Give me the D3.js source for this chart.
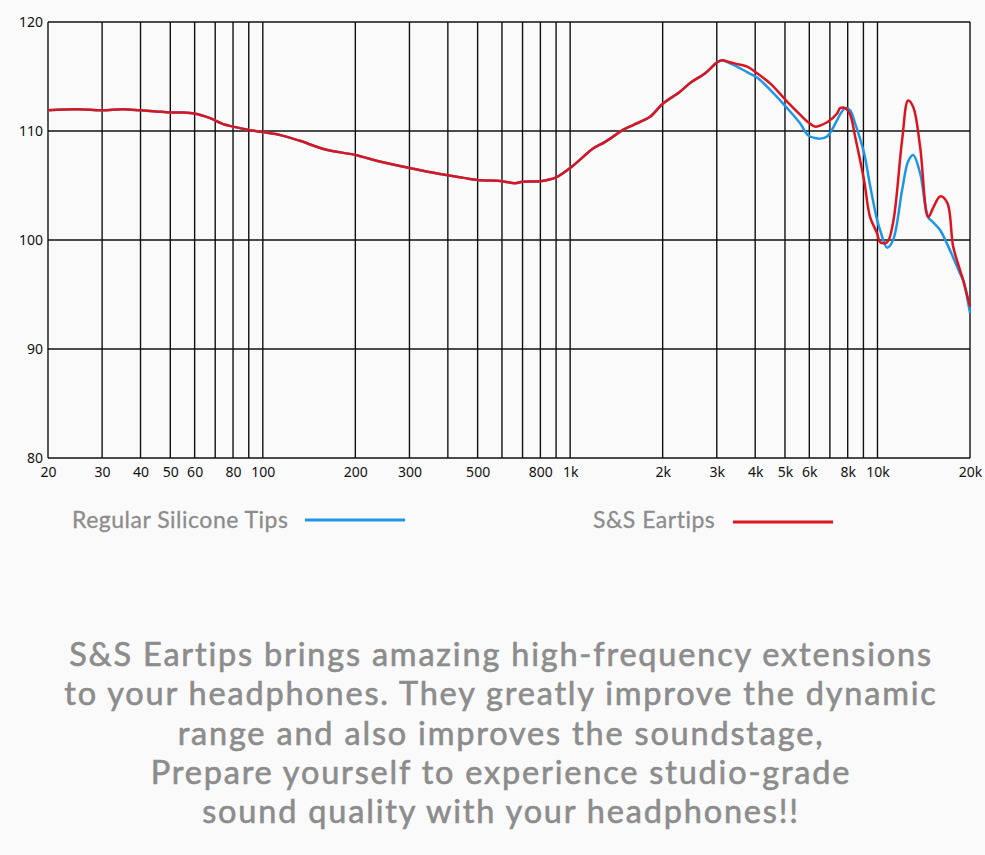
<!DOCTYPE html>
<html>
<head>
<meta charset="utf-8">
<script src="https://cdn.jsdelivr.net/npm/d3@7"></script>
<style>
  body { margin: 0; background: #fafafa; }
  svg { display: block; font-family: "Noto Sans", sans-serif; }
</style>
</head>
<body>
<div id="chart"></div>
<script>
const width = 985;
const height = 855;

// fréquences (Hz) et niveaux (dB)
const freqs = [20, 25, 30, 35, 40, 45, 50, 55, 60, 67, 75, 80, 90, 100, 115, 132, 160, 200, 240, 300,
  377, 450, 500, 600, 662, 700, 800, 900, 1000, 1100, 1187, 1300, 1486, 1603, 1820, 2000, 2278, 2456,
  2750, 3006, 3120, 3314, 3550, 3766, 4058, 4500, 5080, 5600, 5946, 6266, 6506, 6856, 7390, 7554, 7848,
  8148, 8456, 9040, 9460, 9977, 10200, 10750, 11240, 12030, 12580, 13070, 13770, 14620, 15200, 16000,
  16870, 17630, 18580, 19010, 20000];

const ssEartips = [111.9, 112.0, 111.9, 112.0, 111.9, 111.8, 111.7, 111.7, 111.6, 111.2, 110.6, 110.4,
  110.1, 109.9, 109.6, 109.1, 108.3, 107.8, 107.2, 106.6, 106.05, 105.7, 105.5, 105.4, 105.2, 105.35,
  105.4, 105.75, 106.6, 107.6, 108.4, 109.0, 110.1, 110.55, 111.3, 112.5, 113.6, 114.4, 115.3, 116.3,
  116.5, 116.3, 116.1, 115.9, 115.3, 114.3, 112.7, 111.5, 110.8, 110.4, 110.5, 110.8, 111.6, 112.1,
  112.1, 111.5, 109.5, 105.5, 102.1, 100.6, 99.8, 99.8, 101.6, 109.2, 112.8, 112.2, 108.5, 102.1,
  103.0, 104.0, 103.4, 99.4, 97.2, 96.3, 93.9];

const regularTips = [111.9, 112.0, 111.9, 112.0, 111.9, 111.8, 111.7, 111.7, 111.6, 111.2, 110.6, 110.4,
  110.1, 109.9, 109.6, 109.1, 108.3, 107.8, 107.2, 106.6, 106.05, 105.7, 105.5, 105.4, 105.2, 105.35,
  105.4, 105.75, 106.6, 107.6, 108.4, 109.0, 110.1, 110.55, 111.3, 112.5, 113.6, 114.4, 115.3, 116.3,
  116.5, 116.2, 115.8, 115.4, 114.9, 113.7, 112.1, 110.7, 109.6, 109.35, 109.3, 109.5, 111.0, 111.5,
  112.1, 111.9, 110.7, 108.0, 105.0, 101.8, 100.9, 99.3, 100.0, 104.6, 107.2, 107.8, 106.1, 102.1,
  101.6, 100.9, 99.6, 98.4, 96.9, 96.3, 93.3];

const gridFreqs = [20, 30, 40, 50, 60, 70, 80, 90, 100, 200, 300, 400, 500, 600, 700, 800, 900,
  1000, 2000, 3000, 4000, 5000, 6000, 7000, 8000, 9000, 10000, 20000];
const freqTicks = [20, 30, 40, 50, 60, 80, 100, 200, 300, 500, 800, 1000, 2000, 3000, 4000, 5000,
  6000, 8000, 10000, 20000];
const dbTicks = [80, 90, 100, 110, 120];

const legendLabels = ["Regular Silicone Tips", "S&S Eartips"];
const blurb = [
  "S&S Eartips brings amazing high-frequency extensions",
  "to your headphones. They greatly improve the dynamic",
  "range and also improves the soundstage,",
  "Prepare yourself to experience studio-grade",
  "sound quality with your headphones!!"
];

const blue = "#1e96e8";
const red = "#dc141e";
const gray = "#8c8c8c";

const x = d3.scaleLog().domain([20, 20000]).range([48, 970]);
const y = d3.scaleLinear().domain([80, 120]).range([458, 22]);

const svg = d3.select("#chart").append("svg")
  .attr("width", width)
  .attr("height", height);

svg.append("rect").attr("width", width).attr("height", height).attr("fill", "#fafafa");

// grille
svg.append("g").selectAll("line")
  .data(gridFreqs)
  .enter().append("line")
  .attr("x1", d => x(d)).attr("x2", d => x(d))
  .attr("y1", y(120)).attr("y2", y(80))
  .attr("stroke", "#111").attr("stroke-width", 1.4);

svg.append("g").selectAll("line")
  .data(dbTicks)
  .enter().append("line")
  .attr("x1", x(20)).attr("x2", x(20000))
  .attr("y1", d => y(d)).attr("y2", d => y(d))
  .attr("stroke", "#111").attr("stroke-width", 1.4);

// axes
const fmt = d => d >= 1000 ? (d / 1000) + "k" : String(d);
const xAxis = svg.append("g")
  .attr("transform", `translate(0,${y(80)})`)
  .call(d3.axisBottom(x).tickValues(freqTicks).tickFormat(fmt).tickSize(0).tickPadding(9));
xAxis.select(".domain").remove();
xAxis.selectAll("text").attr("font-size", 14).attr("fill", "#111").attr("font-family", "Noto Sans, sans-serif");

const yAxis = svg.append("g")
  .attr("transform", `translate(${x(20)},0)`)
  .call(d3.axisLeft(y).tickValues(dbTicks).tickSize(0).tickPadding(5));
yAxis.select(".domain").remove();
yAxis.selectAll("text").attr("font-size", 14).attr("fill", "#111").attr("font-family", "Noto Sans, sans-serif");

// courbes
const line = d3.line()
  .x(d => x(d[0]))
  .y(d => y(d[1]))
  .curve(d3.curveCatmullRom.alpha(0.5));

svg.append("path")
  .datum(freqs.map((f, i) => [f, regularTips[i]]))
  .attr("d", line)
  .attr("fill", "none").attr("stroke", blue).attr("stroke-width", 2.5);

svg.append("path")
  .datum(freqs.map((f, i) => [f, ssEartips[i]]))
  .attr("d", line)
  .attr("fill", "none").attr("stroke", red).attr("stroke-width", 2.5);

// légende
const legend = [
  { label: legendLabels[0], color: blue, tx: 72, lx: 305, ly: 520 },
  { label: legendLabels[1], color: red, tx: 593, lx: 733, ly: 522 }
];
legend.forEach(l => {
  svg.append("text")
    .attr("x", l.tx).attr("y", 528)
    .attr("font-family", "Lato, sans-serif")
    .attr("font-size", 23).attr("letter-spacing", 0.5).attr("fill", gray)
    .attr("stroke", gray).attr("stroke-width", 0.3)
    .text(l.label);
  svg.append("line")
    .attr("x1", l.lx).attr("x2", l.lx + 100)
    .attr("y1", l.ly).attr("y2", l.ly)
    .attr("stroke", l.color).attr("stroke-width", 3);
});

// texte
svg.append("g").selectAll("text")
  .data(blurb)
  .enter().append("text")
  .attr("x", 501)
  .attr("y", (d, i) => 666 + i * 39.3)
  .attr("text-anchor", "middle")
  .attr("font-family", "Lato, sans-serif")
  .attr("font-size", 32.5)
  .attr("letter-spacing", 1.8)
  .attr("fill", gray)
  .attr("stroke", gray).attr("stroke-width", 0.6)
  .text(d => d);
</script>
</body>
</html>
